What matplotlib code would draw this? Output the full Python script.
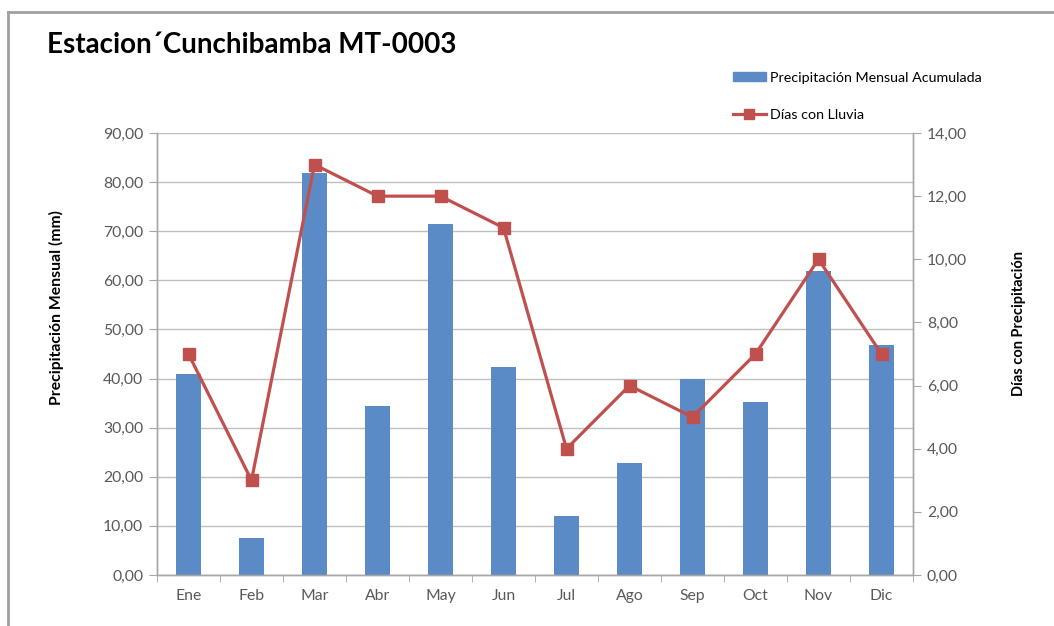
import matplotlib
matplotlib.use("Agg")
import matplotlib.pyplot as plt
from matplotlib.lines import Line2D
from matplotlib.patches import Patch
import numpy as np

months = ["Ene", "Feb", "Mar", "Abr", "May", "Jun", "Jul", "Ago", "Sep", "Oct", "Nov", "Dic"]
precip = [40.9, 7.5, 81.9, 34.4, 71.5, 42.4, 12.0, 22.8, 39.9, 35.2, 61.9, 46.8]
dias = [7, 3, 13, 12, 12, 11, 4, 6, 5, 7, 10, 7]
left_ticks = [0, 10, 20, 30, 40, 50, 60, 70, 80, 90]
right_ticks = [0, 2, 4, 6, 8, 10, 12, 14]

plt.rcParams['font.family'] = ['Lato', 'DejaVu Sans']

BAR = "#5B8BC6"
LINE = "#C0504D"
GRAY = "#A6A6A6"
TXT = "#595959"

fig = plt.figure(figsize=(10.54, 6.26), dpi=100)
ax = fig.add_axes([157/1054, 1-575/626, (913-157)/1054, (575-133)/626])
ax2 = ax.twinx()

x = np.arange(len(months))
ax.bar(x, precip, width=0.41, color=BAR, zorder=2)
ax.set_xlim(-0.5, len(months)-0.5)
ax.set_ylim(0, 90)
ax.set_yticks(left_ticks)
ax.set_yticklabels([f"{v:.2f}".replace(".", ",") for v in left_ticks])
ax.yaxis.grid(True, color="#BFBFBF", linewidth=1.0, zorder=0)
ax.set_axisbelow(True)
ax.set_xticks(x)
ax.set_xticklabels(months)
ax.set_xticks(np.arange(-0.5, len(months)), minor=True)
ax.tick_params(axis='x', which='major', length=0, pad=10, labelsize=11.3, labelcolor=TXT)
ax.tick_params(axis='x', which='minor', length=5, color=GRAY, direction='out')
ax.tick_params(axis='y', length=6, color=GRAY, labelsize=11.3, labelcolor=TXT, pad=4)

ax2.plot(x, dias, color=LINE, linewidth=2.3, marker='s', markersize=8.5, zorder=3)
ax2.set_ylim(0, 14)
ax2.set_yticks(right_ticks)
ax2.set_yticklabels([f"{v:.2f}".replace(".", ",") for v in right_ticks])
ax2.tick_params(axis='y', length=6, color=GRAY, labelsize=11.3, labelcolor=TXT, pad=4)

for a in (ax, ax2):
    a.spines['top'].set_visible(False)
    for s in ('left', 'right', 'bottom'):
        a.spines[s].set_color(GRAY)
        a.spines[s].set_linewidth(1.0)

ax.set_ylabel("Precipitación Mensual (mm)", fontsize=11.3, fontweight='bold')
ax2.set_ylabel("Días con Precipitación", fontsize=10.5, fontweight='bold')
ax.yaxis.set_label_coords(-0.123, 0.604)
ax2.yaxis.set_label_coords(1.131, 0.57)

fig.text(47/1054, 1-45/626, "Estacion\u00b4Cunchibamba MT-0003", fontsize=20, fontweight='bold',
         va='center', ha='left')

handles = [Patch(facecolor=BAR, edgecolor=BAR),
           Line2D([0], [0], color=LINE, linewidth=2.3, marker='s', markersize=7)]
fig.legend(handles, ["Precipitación Mensual Acumulada", "Días con Lluvia"],
           loc='upper left', bbox_to_anchor=(720/1054, 1-59/626), frameon=False,
           fontsize=10.3, labelspacing=1.75, handlelength=2.3, handletextpad=0.3,
           handleheight=0.6)

# chart frame
fig.add_artist(Line2D([8/1054, 8/1054], [0, 1-12/626], color="#A0A0A0", linewidth=2, transform=fig.transFigure))
fig.add_artist(Line2D([8/1054, 1], [1-12/626, 1-12/626], color="#A0A0A0", linewidth=2, transform=fig.transFigure))

fig.savefig("out.png", dpi=100)
